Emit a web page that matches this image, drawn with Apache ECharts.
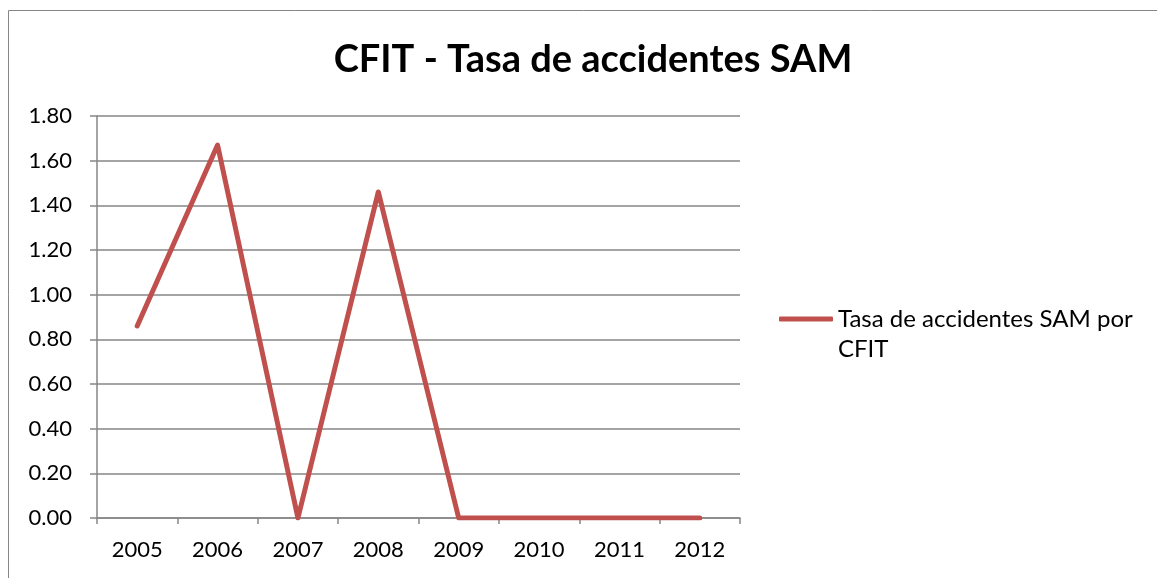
<!DOCTYPE html>
<html>
<head>
<meta charset="utf-8">
<script src="https://cdn.jsdelivr.net/npm/echarts@6/dist/echarts.min.js"></script>
<style>
  html, body { margin: 0; padding: 0; background: #fff; }
  #chart { width: 1157px; height: 578px; }
</style>
</head>
<body>
<div id="chart"></div>
<script>
var years = ['2005', '2006', '2007', '2008', '2009', '2010', '2011', '2012']
var tasaCfit = [0.86, 1.67, 0.00, 1.46, 0.00, 0.00, 0.00, 0.00]
var seriesName = 'Tasa de accidentes SAM por CFIT'

var chart = echarts.init(document.getElementById('chart'))
var gray = '#868686'
var font = 'Lato'

chart.setOption({
  animation: false,
  title: {
    text: 'CFIT - Tasa de accidentes SAM',
    left: 588,
    textAlign: 'center',
    top: 36,
    textStyle: {
      fontFamily: font,
      fontSize: 38,
      fontWeight: 'bold',
      color: '#000'
    }
  },
  graphic: [{
    type: 'rect',
    shape: { x: 8.5, y: 10.5, width: 1300, height: 700 },
    style: { fill: 'none', stroke: gray, lineWidth: 1 },
    silent: true
  }],
  legend: {
    left: 774,
    top: 269,
    itemWidth: 54,
    itemHeight: 5,
    itemGap: 0,
    icon: 'roundRect',
    formatter: function (name) {
      // blank first line keeps the marker level with the first text line
      return ' \nTasa de accidentes SAM por\nCFIT'
    },
    textStyle: {
      fontFamily: font,
      fontSize: 24,
      lineHeight: 30,
      color: '#000'
    },
    data: [seriesName]
  },
  grid: {
    left: 97,
    right: 417,
    top: 116,
    bottom: 60,
    containLabel: false
  },
  xAxis: {
    type: 'category',
    data: years,
    boundaryGap: true,
    axisLine: { lineStyle: { color: gray, width: 1.5 } },
    axisTick: { show: true, length: 6, lineStyle: { color: gray, width: 1.5 } },
    axisLabel: {
      fontFamily: font,
      fontSize: 22,
      color: '#000',
      margin: 21
    }
  },
  yAxis: {
    type: 'value',
    min: 0,
    max: 1.8,
    interval: 0.2,
    axisLine: { show: true, lineStyle: { color: gray, width: 1.5 } },
    axisTick: { show: true, length: 7, lineStyle: { color: gray, width: 1.5 } },
    splitLine: { lineStyle: { color: gray, width: 1.5 } },
    axisLabel: {
      fontFamily: font,
      fontSize: 22,
      color: '#000',
      margin: 25,
      formatter: function (v) { return v.toFixed(2) }
    }
  },
  series: [{
    name: seriesName,
    type: 'line',
    data: tasaCfit,
    showSymbol: false,
    symbol: 'none',
    lineStyle: { color: '#C0504D', width: 5, cap: 'round', join: 'round' },
    itemStyle: { color: '#C0504D' }
  }]
})
</script>
</body>
</html>
